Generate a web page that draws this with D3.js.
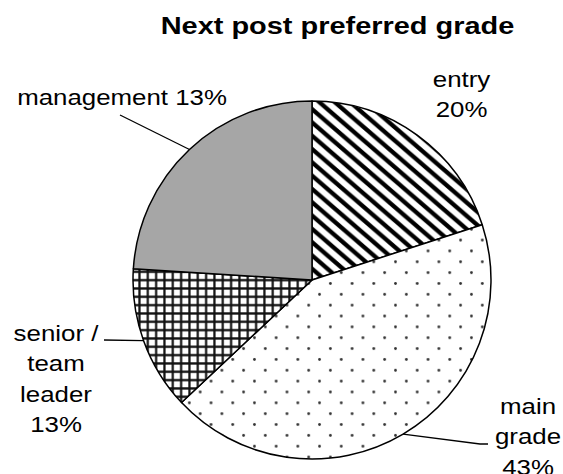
<!DOCTYPE html>
<html>
<head>
<meta charset="utf-8">
<script src="https://cdn.jsdelivr.net/npm/d3@7"></script>
<style>
  body { margin: 0; background: #fff; }
  text { font-family: "Liberation Sans", Arial, sans-serif; fill: #000; }
</style>
</head>
<body>
<svg id="chart" width="563" height="474"></svg>
<script>
"use strict";
// data (slice sizes from the angles, label text as printed)
const categories = ["entry", "main grade", "senior / team leader", "management"];
const values = [20, 43, 13, 24];
const labelLines = [["entry", "20%"], ["main", "grade", "43%"], ["senior /", "team", "leader", "13%"], ["management 13%"]];

const W = 563, H = 474;
const cx = 312, cy = 280, R = 179;
const sx = 1.16; // the reference is stretched a bit sideways

const svg = d3.select("#chart");
const defs = svg.append("defs");

// wide downward diagonal
const s = 13.3;
const stripe = defs.append("pattern").attr("id", "p0").attr("patternUnits", "userSpaceOnUse")
  .attr("width", s).attr("height", s).attr("x", 0).attr("y", 2)
  .attr("patternTransform", `scale(${sx},1)`);
stripe.append("rect").attr("width", s).attr("height", s).attr("fill", "#fff");
stripe.append("path")
  .attr("d", `M${-s / 2},${-s / 2}L${s * 1.5},${s * 1.5}M${s / 2},${-s / 2}L${s * 1.5},${s / 2}M${-s / 2},${s / 2}L${s / 2},${s * 1.5}`)
  .attr("stroke", "#000").attr("stroke-width", 4);

// sparse dots
const d = 21.7;
const dots = defs.append("pattern").attr("id", "p1").attr("patternUnits", "userSpaceOnUse")
  .attr("width", d).attr("height", d).attr("x", 387.3 - d / 4).attr("y", 307.3 - d / 4);
dots.append("rect").attr("width", d).attr("height", d).attr("fill", "#fff");
[[d / 4, d / 4], [d * 3 / 4, d * 3 / 4]].forEach(p =>
  dots.append("circle").attr("cx", p[0]).attr("cy", p[1]).attr("r", 1.4).attr("fill", "#333"));

// small grid
const g = 8.33;
const grid = defs.append("pattern").attr("id", "p2").attr("patternUnits", "userSpaceOnUse")
  .attr("width", g).attr("height", g).attr("x", 144 - g / 2).attr("y", 291.7 - g / 2);
grid.append("rect").attr("width", g).attr("height", g).attr("fill", "#fff");
grid.append("path").attr("d", `M${g / 2},0V${g}M0,${g / 2}H${g}`)
  .attr("stroke", "#111").attr("stroke-width", 2.2);

const fills = ["url(#p0)", "url(#p1)", "url(#p2)", "#a6a6a6"];

const pie = d3.pie().sort(null).value(v => v);
const arcs = pie(values);
const arc = d3.arc().innerRadius(0).outerRadius(R);

const plot = svg.append("g").attr("transform", `translate(${cx},${cy})`);
plot.selectAll("path.slice").data(arcs).enter().append("path")
  .attr("class", "slice")
  .attr("d", arc)
  .attr("fill", (a, i) => fills[i])
  .attr("stroke", "#000").attr("stroke-width", 1.5).attr("stroke-linejoin", "round");

// title
svg.append("text")
  .attr("transform", `translate(337.5,34) scale(${sx * 1.01},1)`)
  .attr("text-anchor", "middle").attr("font-weight", "bold").attr("font-size", 24.7)
  .text("Next post preferred grade");

// label layout: text centre, first baseline, elbow points of leader line
const labelPos = [
  { x: 461.5, y: 87, line: null },
  { x: 528, y: 414, line: [[480, 444], [488, 444]] },
  { x: 56, y: 341, line: [[104, 340]] },
  { x: 122, y: 105, line: [[120, 115]] }
];
const lh = 30.3;

arcs.forEach((a, i) => {
  const pos = labelPos[i];
  if (pos.line) {
    const mid = (a.startAngle + a.endAngle) / 2;
    const edge = [cx + R * Math.sin(mid), cy - R * Math.cos(mid)];
    svg.append("path")
      .attr("d", d3.line()([edge].concat(pos.line)))
      .attr("fill", "none").attr("stroke", "#000").attr("stroke-width", 1.3);
  }
  labelLines[i].forEach((t, k) => {
    svg.append("text")
      .attr("transform", `translate(${pos.x},${pos.y + k * lh}) scale(${sx},1)`)
      .attr("text-anchor", "middle").attr("font-size", 22.3)
      .text(t);
  });
});
</script>
</body>
</html>
